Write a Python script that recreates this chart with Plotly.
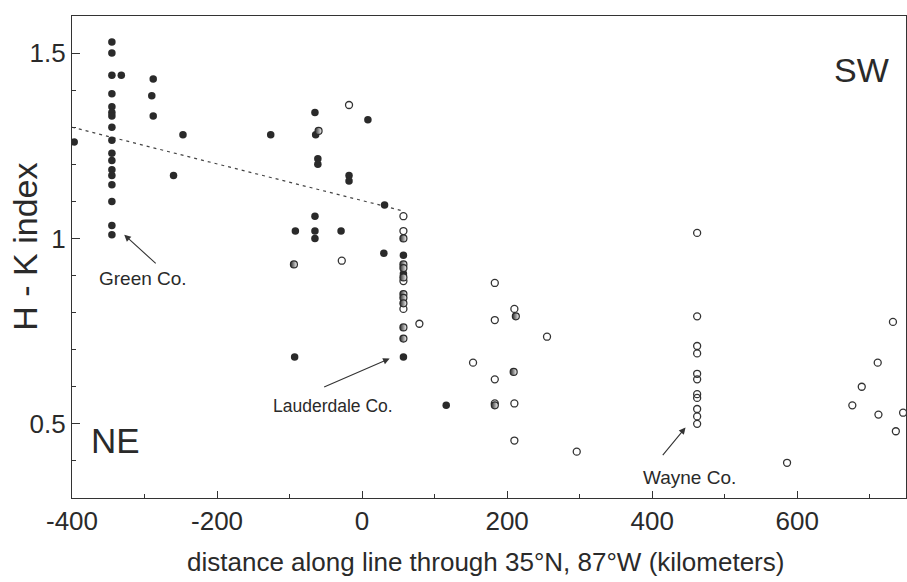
import plotly.graph_objects as go

# ---- data -------------------------------------------------------------
# solid symbols
green_x = -345
green_y = [1.53, 1.50, 1.44, 1.39, 1.355, 1.34, 1.33, 1.30, 1.265, 1.23,
           1.21, 1.185, 1.17, 1.145, 1.10, 1.035, 1.01]
solid_x = [-397, -332, -288, -290, -288, -247, -260, -126, -92, -65, 8, -64,
           -61, -61, -18, -18, 31, -65, -65, -65, -29, 30, 57, 57, 57, -93, 116]
solid_y = [1.26, 1.44, 1.43, 1.385, 1.33, 1.28, 1.17, 1.28, 1.02, 1.34, 1.32, 1.28,
           1.215, 1.20, 1.17, 1.155, 1.09, 1.06, 1.02, 1.00, 1.02, 0.96, 0.955, 0.905,
           0.68, 0.68, 0.55]

# open symbols
wayne_x = 462
wayne_y = [1.015, 0.79, 0.71, 0.69, 0.635, 0.62, 0.58, 0.57, 0.54, 0.52, 0.50]
open_x = [-18, 57, 57, 57, 57, 79, -28, 183, 210, 183, 255, 153, 183, 183, 210,
          210, 296, 586, 732, 711, 689, 676, 712, 746, 736]
open_y = [1.36, 1.06, 1.02, 0.885, 0.81, 0.77, 0.94, 0.88, 0.81, 0.78, 0.735, 0.665,
          0.62, 0.555, 0.555, 0.455, 0.425, 0.395, 0.775, 0.665, 0.60, 0.55, 0.525,
          0.53, 0.48]

# half-filled symbols
half_x = [-60, 57, 57, 57, 57, 57, 57, 57, 57, 57, -94, 212, 209, 183]
half_y = [1.29, 1.00, 0.93, 0.92, 0.895, 0.85, 0.84, 0.825, 0.76, 0.73, 0.93,
          0.79, 0.64, 0.55]

# linear trend through the eastern sites
trend_x = [-400, 55]
trend_y = [1.30, 1.075]

x_tick_vals = [-400, -200, 0, 200, 400, 600]
x_tick_text = ["-400", "-200", "0", "200", "400", "600"]
x_minor_vals = [-300, -100, 100, 300, 500, 700]
y_tick_vals = [0.5, 1.0, 1.5]
y_tick_text = ["0.5", "1", "1.5"]
y_minor_vals = [0.4, 0.6, 0.7, 0.8, 0.9, 1.1, 1.2, 1.3, 1.4]

# ---- styling ----------------------------------------------------------
FONT = "Liberation Sans, Arial, sans-serif"
INK = "#2a2a2a"

fig = go.Figure()

fig.add_trace(go.Scatter(
    x=trend_x, y=trend_y, mode="lines",
    line=dict(color="#444", width=1.2, dash="3px,4px"),
    hoverinfo="skip"))

fig.add_trace(go.Scatter(
    x=[green_x] * len(green_y) + solid_x, y=green_y + solid_y, mode="markers",
    marker=dict(symbol="circle", size=7.5, color=INK, line=dict(width=0))))

fig.add_trace(go.Scatter(
    x=open_x + [wayne_x] * len(wayne_y), y=open_y + wayne_y, mode="markers",
    marker=dict(symbol="circle-open", size=7, color="#333", line=dict(width=1.3))))

fig.add_trace(go.Scatter(
    x=half_x, y=half_y, mode="markers",
    marker=dict(symbol="circle", size=7, color=INK,
                gradient=dict(type="horizontal", color="white"),
                line=dict(width=1.2, color=INK))))

axis_common = dict(showline=True, linecolor="#333", linewidth=1.3, mirror=True,
                   showgrid=False, zeroline=False, ticks="inside", tickwidth=1.1,
                   tickcolor="#333")

fig.update_xaxes(range=[-400, 750], tickmode="array", tickvals=x_tick_vals,
                 ticktext=x_tick_text, ticklen=7,
                 minor=dict(tickmode="array", tickvals=x_minor_vals, ticks="inside",
                            ticklen=4, tickcolor="#333", tickwidth=1),
                 tickfont=dict(size=26, color=INK, family=FONT), **axis_common)
fig.update_yaxes(range=[0.3, 1.6], tickmode="array", tickvals=y_tick_vals,
                 ticktext=y_tick_text, ticklen=8,
                 minor=dict(tickmode="array", tickvals=y_minor_vals, ticks="inside",
                            ticklen=4, tickcolor="#333", tickwidth=1),
                 tickfont=dict(size=26, color=INK, family=FONT), **axis_common)

annotations = [
    # axis titles
    dict(text="distance along line through 35°N, 87°W (kilometers)", xref="paper",
         yref="paper", x=0.496, y=-0.133, showarrow=False,
         font=dict(size=26, family=FONT, color=INK), xanchor="center", yanchor="middle"),
    dict(text="H - K index", xref="paper", yref="paper", x=-0.056, y=0.522,
         textangle=-90, showarrow=False, font=dict(size=34, family=FONT, color=INK),
         xanchor="center", yanchor="middle"),
    # direction labels
    dict(text="NE", xref="paper", yref="paper", x=0.052, y=0.120, showarrow=False,
         font=dict(size=35, family=FONT, color=INK), xanchor="center", yanchor="middle"),
    dict(text="SW", xref="paper", yref="paper", x=0.9466, y=0.888, showarrow=False,
         font=dict(size=34, family=FONT, color=INK), xanchor="center", yanchor="middle"),
    # county labels
    dict(text="Green Co.", x=-302, y=0.893, showarrow=False,
         font=dict(size=19, family=FONT, color=INK)),
    dict(text="Lauderdale Co.", x=-40, y=0.548, showarrow=False,
         font=dict(size=17.5, family=FONT, color=INK)),
    dict(text="Wayne Co.", x=452, y=0.354, showarrow=False,
         font=dict(size=19, family=FONT, color=INK)),
    # arrows
    dict(text="", x=-328, y=1.01, ax=33, ay=30, showarrow=True, arrowhead=2,
         arrowsize=1.2, arrowwidth=1.1, arrowcolor="#333"),
    dict(text="", x=38, y=0.676, ax=-67, ay=29, showarrow=True, arrowhead=2,
         arrowsize=1.2, arrowwidth=1.1, arrowcolor="#333"),
    dict(text="", x=446, y=0.49, ax=-24, ay=29, showarrow=True, arrowhead=2,
         arrowsize=1.2, arrowwidth=1.1, arrowcolor="#333"),
]

fig.update_layout(
    width=907, height=582,
    margin=dict(l=72, r=1, t=16, b=84),
    paper_bgcolor="white", plot_bgcolor="white",
    showlegend=False,
    font=dict(family=FONT, color=INK),
    annotations=annotations,
)

fig.write_html("out.html")
